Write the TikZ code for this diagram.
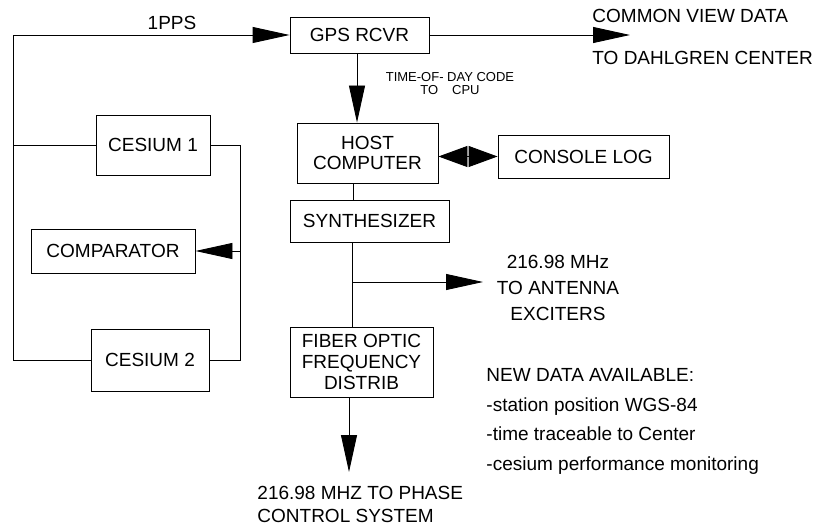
\documentclass[tikz,border=0pt]{standalone}
\usepackage{fontspec}
\setmainfont{Liberation Sans}
\usetikzlibrary{arrows.meta}

\begin{document}
\begin{tikzpicture}[x=1pt, y=-1pt, line width=0.9pt,
    box/.style={draw, inner sep=0pt, align=center, font=\fontsize{19}{20}\selectfont},
    lbl/.style={inner sep=0pt, font=\fontsize{19}{21}\selectfont},
    small/.style={inner sep=0pt, align=center, font=\fontsize{13}{12.5}\selectfont},
    flow/.style={-{Triangle[length=37pt, width=16pt]}},
    both/.style={{Triangle[length=29pt, width=21pt]}-{Triangle[length=29pt, width=21pt]}}]
    \useasboundingbox (0,0) rectangle (813,529);

    % Блоки
    \node[box, minimum width=139pt, minimum height=36pt] (gps) at (359.5,35) {GPS RCVR};
    \node[box, minimum width=114pt, minimum height=60pt] (cs1) at (153,145) {CESIUM 1};
    \node[box, minimum width=164pt, minimum height=44pt] (comp) at (113,251) {COMPARATOR};
    \node[box, minimum width=118pt, minimum height=62pt] (cs2) at (150,360) {CESIUM 2};
    \node[box, minimum width=141pt, minimum height=60pt] (host) at (367.5,153) {HOST\\COMPUTER};
    \node[box, minimum width=159pt, minimum height=42pt] (synth) at (369.5,221) {SYNTHESIZER};
    \node[box, minimum width=171pt, minimum height=43pt] (console) at (583.5,156.5) {CONSOLE LOG};
    \node[box, minimum width=143pt, minimum height=70pt, font=\fontsize{19}{21}\selectfont] (fiber) at (361.5,362) {FIBER OPTIC\\FREQUENCY\\DISTRIB};

    % Опорные точки
    \coordinate (busL) at (13,35);
    \coordinate (busR) at (240,145);
    \coordinate (spineA) at (357,0);
    \coordinate (spineB) at (353,0);
    \coordinate (branch) at (352,282);
    \coordinate (anttip) at (483,282);
    \coordinate (cvtip) at (630,35);
    \coordinate (phasetip) at (349,472);

    % Шина 1PPS слева
    \draw[flow] (cs2.west) -| (busL) -- (gps.west);
    \draw (cs1.west) -- (cs1.west -| busL);
    \node[lbl, anchor=base] (pps) at (172,30) {1PPS};

    % Цезиевые стандарты -> компаратор
    \draw (cs1.east) -- (cs1.east -| busR) |- (cs2.east);
    \draw[flow] (comp.east -| busR) -- (comp.east);

    % Центральная цепочка
    \draw[flow] (gps.south -| spineA) -- (host.north -| spineA);
    \node[small, anchor=north] (tod) at (450,72) {TIME-OF- DAY CODE\\TO\hspace{14pt}CPU};
    \draw (host.south -| spineB) -- (synth.north -| spineB);
    \draw (synth.south -| branch) -- (fiber.north -| branch);
    \draw[flow] (branch) -- (anttip);
    \draw[flow] (fiber.south -| phasetip) -- (phasetip);
    \draw[both] (host.east |- console.west) -- (console.west);

    % Данные общего обзора
    \draw[flow] (gps.east) -- (cvtip);
    \node[lbl, anchor=base west] (cvdata) at (592,23) {COMMON VIEW DATA};
    \node[lbl, anchor=base west] (cvdest) at (592,65) {TO DAHLGREN CENTER};

    % Подписи выходов
    \node[lbl, anchor=north, align=center, font=\fontsize{19}{26}\selectfont] (antenna) at (558,255) {216.98 MHz\\TO ANTENNA\\EXCITERS};
    \node[lbl, anchor=north west, align=left, font=\fontsize{19}{23}\selectfont] (phase) at (257,486) {216.98 MHZ TO PHASE\\CONTROL SYSTEM};

    % Новые данные
    \node[lbl, anchor=north west, align=left, font=\fontsize{19}{29.5}\selectfont] (newdata) at (486,368) {NEW DATA AVAILABLE:\\-station position WGS-84\\-time traceable to Center\\-cesium performance monitoring};
\end{tikzpicture}
\end{document}
